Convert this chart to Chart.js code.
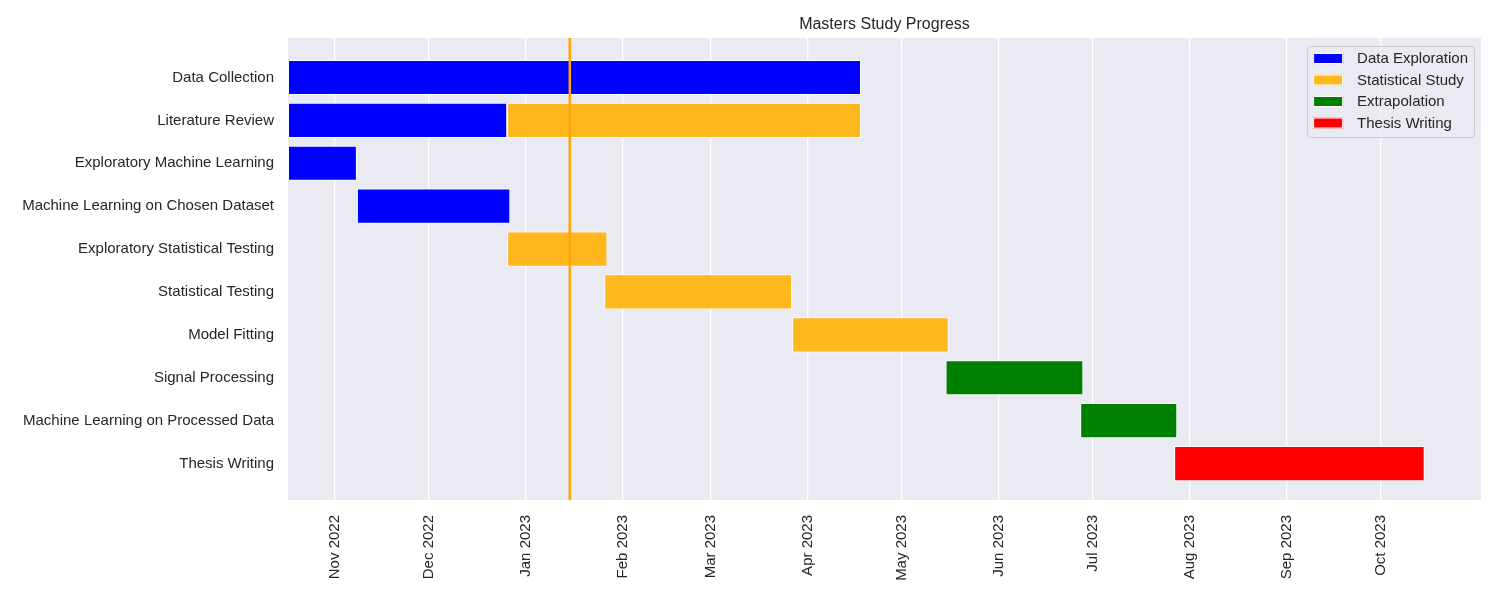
<!DOCTYPE html>
<html>
<head>
<meta charset="utf-8">
<script src="https://cdn.jsdelivr.net/npm/chart.js@4.4.0/dist/chart.umd.min.js"></script>
<style>
body{margin:0;background:#fff}
#wrap{width:1500px;height:600px}
</style>
</head>
<body>
<div id="wrap"><canvas id="chart" width="1500" height="600"></canvas></div>
<script>
const tasks = ['Data Collection','Literature Review','Exploratory Machine Learning','Machine Learning on Chosen Dataset',
    'Exploratory Statistical Testing','Statistical Testing','Model Fitting','Signal Processing',
    'Machine Learning on Processed Data','Thesis Writing'];

const explorationTasks = ['Data Collection','Literature Review','Exploratory Machine Learning','Machine Learning on Chosen Dataset'];
const explorationStart = ['2022-10-17','2022-10-17','2022-10-17','2022-11-08'];
const explorationEnd = ['2023-04-18','2022-12-26','2022-11-08','2022-12-27'];

const statisticalTasks = ['Literature Review','Exploratory Statistical Testing','Statistical Testing','Model Fitting'];
const statisticalStart = ['2022-12-26','2022-12-26','2023-01-26','2023-03-27'];
const statisticalEnd = ['2023-04-18','2023-01-27','2023-03-27','2023-05-16'];

const extrapolationTasks = ['Signal Processing','Machine Learning on Processed Data'];
const extrapolationStart = ['2023-05-15','2023-06-27'];
const extrapolationEnd = ['2023-06-28','2023-07-28'];

const thesisTasks = ['Thesis Writing'];
const thesisStart = ['2023-07-27'];
const thesisEnd = ['2023-10-15'];

const monthTicks = ['2022-11-01','2022-12-01','2023-01-01','2023-02-01','2023-03-01','2023-04-01',
    '2023-05-01','2023-06-01','2023-07-01','2023-08-01','2023-09-01','2023-10-01'];
const monthLabels = ['Nov 2022','Dec 2022','Jan 2023','Feb 2023','Mar 2023','Apr 2023',
    'May 2023','Jun 2023','Jul 2023','Aug 2023','Sep 2023','Oct 2023'];

const titleText = 'Masters Study Progress';
const todayDate = '2023-01-15';
const axisStart = '2022-10-17';
const axisEnd = '2023-11-02';

const textColor = '#262626';
const fontFamily = "'Liberation Sans', Arial, sans-serif";
Chart.defaults.font.family = fontFamily;

function day(s){
    const [y,m,d] = s.split('-').map(Number);
    return Date.UTC(y,m-1,d)/86400000;
}
function segs(names, starts, ends){
    return names.map((n,i)=>({x:[day(starts[i]), day(ends[i])], y:tasks.indexOf(n)}));
}
function phase(label, color, data){
    return {label:label, data:data, backgroundColor:color, borderColor:'#ffffff', borderWidth:1,
        borderSkipped:false, grouped:false, barPercentage:0.82, categoryPercentage:1};
}

const ganttPlugin = {
    id:'gantt',
    beforeDraw(chart){
        const a = chart.chartArea, ctx = chart.ctx;
        ctx.save();
        ctx.fillStyle = '#EAEAF2';
        ctx.fillRect(a.left, a.top, a.right-a.left, a.bottom-a.top);
        // title centred over the axes
        ctx.fillStyle = textColor;
        ctx.font = '16px ' + fontFamily;
        ctx.textAlign = 'center';
        ctx.textBaseline = 'middle';
        ctx.fillText(titleText, (a.left+a.right)/2, a.top-13);
        ctx.restore();
    },
    afterDatasetsDraw(chart){
        const a = chart.chartArea, ctx = chart.ctx;
        const x = chart.scales.x.getPixelForValue(day(todayDate));
        ctx.save();
        ctx.strokeStyle = '#FFA500';
        ctx.lineWidth = 2.5;
        ctx.beginPath();
        ctx.moveTo(x, a.top);
        ctx.lineTo(x, a.bottom);
        ctx.stroke();
        ctx.restore();
    },
    afterDraw(chart){
        const a = chart.chartArea, ctx = chart.ctx;
        const sets = chart.data.datasets;
        ctx.save();
        ctx.font = '15px ' + fontFamily;
        let maxW = 0;
        sets.forEach(d=>{ maxW = Math.max(maxW, ctx.measureText(d.label).width); });
        const w = 50 + maxW + 6, h = 91;
        const left = a.right - 7 - w, top = a.top + 8;
        ctx.beginPath();
        ctx.roundRect(left+0.5, top+0.5, w, h, 3);
        ctx.fillStyle = 'rgba(234,234,242,0.8)';
        ctx.fill();
        ctx.strokeStyle = '#cccccc';
        ctx.lineWidth = 1;
        ctx.stroke();
        ctx.textBaseline = 'middle';
        ctx.textAlign = 'left';
        sets.forEach((d,i)=>{
            const cy = top + 12 + i*21.5;
            ctx.fillStyle = d.backgroundColor;
            ctx.fillRect(left+6, cy-5, 30, 11);
            ctx.strokeStyle = '#ffffff';
            ctx.strokeRect(left+6.5, cy-4.5, 29, 10);
            ctx.fillStyle = textColor;
            ctx.fillText(d.label, left+50, cy+1);
        });
        ctx.restore();
    }
};

new Chart(document.getElementById('chart'), {
    type:'bar',
    data:{
        datasets:[
            phase('Data Exploration', '#0000FF', segs(explorationTasks, explorationStart, explorationEnd)),
            phase('Statistical Study', '#FFB71E', segs(statisticalTasks, statisticalStart, statisticalEnd)),
            phase('Extrapolation', '#008000', segs(extrapolationTasks, extrapolationStart, extrapolationEnd)),
            phase('Thesis Writing', '#FF0000', segs(thesisTasks, thesisStart, thesisEnd))
        ]
    },
    options:{
        indexAxis:'y',
        responsive:false,
        animation:false,
        layout:{padding:{right:19, top:38}},
        plugins:{
            legend:{display:false},
            tooltip:{enabled:false},
            title:{display:false}
        },
        scales:{
            x:{
                type:'linear',
                min:day(axisStart), max:day(axisEnd),
                offset:false,
                grid:{color:'#ffffff', lineWidth:1.3, drawTicks:false},
                border:{display:false},
                ticks:{color:textColor, font:{size:15}, minRotation:90, maxRotation:90, padding:15,
                    autoSkip:false, callback:(v,i)=>monthLabels[i]},
                afterBuildTicks:s=>{ s.ticks = monthTicks.map(t=>({value:day(t)})); },
                afterFit:s=>{ s.height = 100; }
            },
            y:{
                type:'linear',
                reverse:true,
                offset:false,
                min:-0.92, max:9.85,
                grid:{display:false},
                border:{display:false},
                ticks:{color:textColor, font:{size:15}, padding:6, autoSkip:false, callback:(v)=>tasks[v]},
                afterBuildTicks:s=>{ s.ticks = tasks.map((t,i)=>({value:i})); },
                afterFit:s=>{ s.width = 288; }
            }
        }
    },
    plugins:[ganttPlugin]
});
</script>
</body>
</html>
